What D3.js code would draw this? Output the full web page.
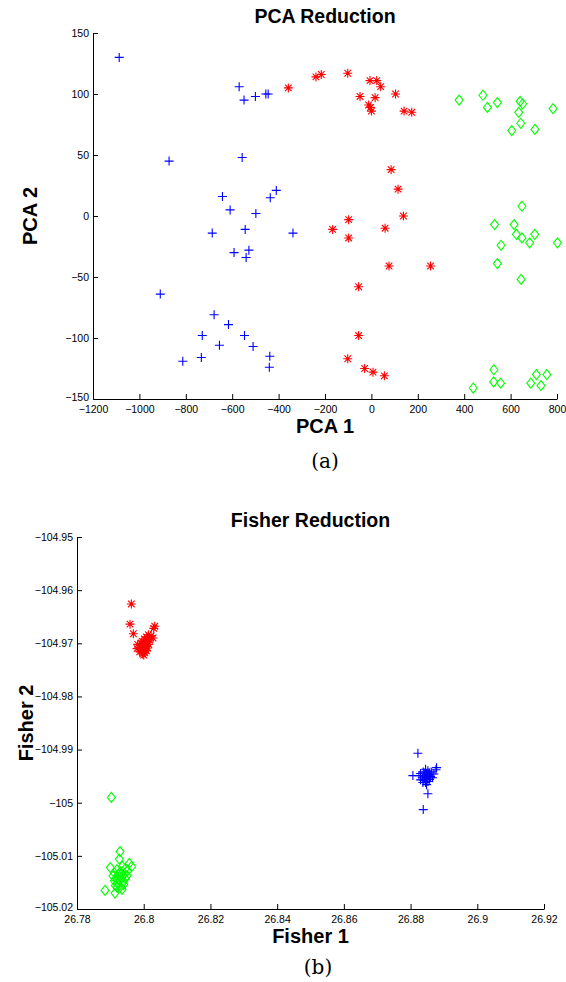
<!DOCTYPE html>
<html><head><meta charset="utf-8">
<script src="https://cdn.jsdelivr.net/npm/d3@7"></script>
<style>body{margin:0;background:#fff}svg{display:block}</style>
</head><body>
<svg id="c" width="566" height="982"></svg>
<script>
// ---------- PCA data ----------
const pcaBlue = [[-1087,130],[-570,106],[-549,95],[-500,98],[-455,100],[-445,100],
 [-872,45],[-557,48],[-642,16],[-410,21],[-436,15],[-609,5],[-498,2],[-686,-14],[-544,-11],[-338,-14],[-592,-30],[-528,-28],[-540,-34],
 [-910,-64],[-678,-81],[-616,-89],[-729,-98],[-547,-98],[-655,-106],[-510,-107],[-733,-116],[-813,-119],[-438,-115],[-440,-124]];
const pcaRed = [[-358,105],[-239,114],[-216,116],[-102,117],[-6,111],[23,111],[40,106],[-49,98],[16,97],[104,100],[-12,91],[-4,89],[0,86],[141,86],[174,85],
 [85,38],[115,22],[138,0],[-98,-3],[-167,-11],[59,-10],[-98,-18],[76,-41],[255,-41],[-55,-58],
 [-55,-98],[-102,-117],[-29,-125],[7,-128],[56,-131]];
const pcaGreen = [[378,95],[481,99],[500,89],[543,93],[641,94],[652,92],[635,85],[783,88],[644,76],[605,70],[705,71],
 [649,8],[531,-7],[615,-7],[625,-15],[649,-18],[704,-15],[682,-22],[559,-24],[802,-22],[543,-39],[645,-52],
 [528,-126],[527,-136],[557,-137],[439,-141],[711,-130],[756,-130],[687,-137],[731,-139]];
const pcaXTicks = [-1200,-1000,-800,-600,-400,-200,0,200,400,600,800];
const pcaYTicks = [-150,-100,-50,0,50,100,150];

// ---------- Fisher data ----------
const fisherRed = [[26.7963,-104.9626],[26.7959,-104.9664],[26.8033,-104.9668],[26.8030,-104.9672],[26.7969,-104.9682],
 [26.8014,-104.9684],[26.8022,-104.9686],[26.8008,-104.9688],[26.8028,-104.9690],[26.8002,-104.9692],[26.8018,-104.9694],
 [26.7995,-104.9696],[26.8010,-104.9698],[26.8003,-104.9700],[26.7982,-104.9702],[26.8015,-104.9702],[26.7998,-104.9705],
 [26.8007,-104.9706],[26.7990,-104.9708],[26.8012,-104.9709],[26.7980,-104.9710],[26.8001,-104.9712],[26.7995,-104.9714],
 [26.8008,-104.9714],[26.7988,-104.9716],[26.8003,-104.9718],[26.7997,-104.9720],[26.8000,-104.9722],[26.8006,-104.9711],[26.7993,-104.9700]];
const fisherGreen = [[26.7903,-104.9990],[26.7929,-105.0092],[26.7927,-105.0106],[26.7957,-105.0114],[26.7964,-105.0120],
 [26.7900,-105.0122],[26.7936,-105.0120],[26.7945,-105.0124],[26.7920,-105.0126],[26.7952,-105.0128],[26.7930,-105.0130],
 [26.7912,-105.0132],[26.7942,-105.0134],[26.7925,-105.0136],[26.7950,-105.0137],[26.7908,-105.0138],[26.7935,-105.0140],
 [26.7918,-105.0142],[26.7945,-105.0143],[26.7928,-105.0145],[26.7912,-105.0147],[26.7938,-105.0149],[26.7922,-105.0151],
 [26.7940,-105.0154],[26.7915,-105.0156],[26.7930,-105.0158],[26.7921,-105.0160],[26.7884,-105.0165],[26.7914,-105.0170],[26.7935,-105.0163]];
const fisherBlue = [[26.8822,-104.9907],[26.8838,-105.0013],[26.8852,-104.9983],[26.8878,-104.9934],[26.8876,-104.9938],
 [26.8807,-104.9949],[26.8845,-104.9937],[26.8852,-104.9940],[26.8838,-104.9942],[26.8862,-104.9942],[26.8830,-104.9945],
 [26.8848,-104.9946],[26.8870,-104.9946],[26.8855,-104.9948],[26.8825,-104.9949],[26.8842,-104.9950],[26.8860,-104.9951],
 [26.8835,-104.9952],[26.8850,-104.9953],[26.8866,-104.9953],[26.8845,-104.9955],[26.8857,-104.9956],[26.8830,-104.9957],
 [26.8840,-104.9958],[26.8852,-104.9960],[26.8845,-104.9962],[26.8837,-104.9962],[26.8848,-104.9966],[26.8856,-104.9944],[26.8843,-104.9944]];
const fisherXTicks = [26.78,26.8,26.82,26.84,26.86,26.88,26.9,26.92];
const fisherXLabels = ["26.78","26.8","26.82","26.84","26.86","26.88","26.9","26.92"];
const fisherYTicks = [-105.02,-105.01,-105,-104.99,-104.98,-104.97,-104.96,-104.95];
const fisherYLabels = ["\u2212105.02","\u2212105.01","\u2212105","\u2212104.99","\u2212104.98","\u2212104.97","\u2212104.96","\u2212104.95"];

const svg = d3.select("#c");
const tickFont = "'Liberation Sans', Arial, Helvetica, sans-serif";

function marker(g, type, color, pts, x, y){
  const sel = g.append("g").attr("fill","none").attr("stroke",color).attr("stroke-width",1.1);
  pts.forEach(p=>{
    const cx = x(p[0]), cy = y(p[1]);
    let d;
    if(type==="plus") d = `M${cx-4.5},${cy}H${cx+4.5}M${cx},${cy-4.5}V${cy+4.5}`;
    else if(type==="star") d = `M${cx-4.5},${cy}H${cx+4.5}M${cx},${cy-4.5}V${cy+4.5}M${cx-3.3},${cy-3.3}L${cx+3.3},${cy+3.3}M${cx-3.3},${cy+3.3}L${cx+3.3},${cy-3.3}`;
    else d = `M${cx},${cy-5}L${cx+4},${cy}L${cx},${cy+5}L${cx-4},${cy}Z`;
    sel.append("path").attr("d",d);
  });
}

function panel(cfg){
  const x = d3.scaleLinear().domain(cfg.xdom).range([cfg.left,cfg.right]);
  const y = d3.scaleLinear().domain(cfg.ydom).range([cfg.bottom,cfg.top]);
  const g = svg.append("g");
  const xa = d3.axisBottom(x).tickValues(cfg.xt).tickSizeInner(-5).tickSizeOuter(0).tickPadding(8)
    .tickFormat((d,i)=>cfg.xl ? cfg.xl[i] : d3.format("")(d).replace("-","\u2212"));
  const ya = d3.axisLeft(y).tickValues(cfg.yt).tickSizeInner(-5).tickSizeOuter(0).tickPadding(8)
    .tickFormat((d,i)=>cfg.yl ? cfg.yl[i] : d3.format("")(d).replace("-","\u2212"));
  const gx = g.append("g").attr("transform",`translate(0,${cfg.bottom})`).call(xa);
  const gy = g.append("g").attr("transform",`translate(${cfg.left},0)`).call(ya);
  [gx,gy].forEach(a=>{
    a.selectAll("text").attr("font-family",tickFont).attr("font-size",10.5).attr("fill","#000");
    a.selectAll("line,path").attr("stroke","#000").attr("stroke-width",1);
  });
  gx.selectAll("text").attr("dy","0.6em");
  gy.selectAll("text").attr("dx","4").attr("dy","0.32em");
  // lowest y label sits just above the x labels, as in the reference
  gy.selectAll(".tick:first-of-type text").attr("dy","0.1em");
  cfg.series.forEach(s=>marker(g,s.type,s.color,s.data,x,y));
  const cx = (cfg.left+cfg.right)/2;
  g.append("text").attr("x",cx).attr("y",cfg.top-10).attr("text-anchor","middle")
    .attr("font-family",tickFont).attr("font-weight","bold").attr("font-size",19.5).text(cfg.title);
  g.append("text").attr("x",cx).attr("y",cfg.bottom+34).attr("text-anchor","middle")
    .attr("font-family",tickFont).attr("font-weight","bold").attr("font-size",20).text(cfg.xlabel);
  g.append("text").attr("transform",`translate(${cfg.ylx},${(cfg.top+cfg.bottom)/2}) rotate(-90)`).attr("text-anchor","middle")
    .attr("font-family",tickFont).attr("font-weight","bold").attr("font-size",20).text(cfg.ylabel);
  g.append("text").attr("x",cfg.capx).attr("y",cfg.capy).attr("text-anchor","middle")
    .attr("font-family","'DejaVu Serif','Liberation Serif',serif").attr("font-size",20).text(cfg.caption);
}

panel({left:93,right:557,top:33,bottom:399,xdom:[-1200,800],ydom:[-150,150],
  xt:pcaXTicks,yt:pcaYTicks,title:"PCA Reduction",xlabel:"PCA 1",ylabel:"PCA 2",ylx:37,
  caption:"(a)",capx:325,capy:468,
  series:[{type:"plus",color:"#0000ff",data:pcaBlue},{type:"star",color:"#ff0000",data:pcaRed},{type:"diamond",color:"#00ff00",data:pcaGreen}]});

panel({left:77,right:544,top:537,bottom:909,xdom:[26.78,26.92],ydom:[-105.02,-104.95],
  xt:fisherXTicks,xl:fisherXLabels,yt:fisherYTicks,yl:fisherYLabels,title:"Fisher Reduction",xlabel:"Fisher 1",ylabel:"Fisher 2",ylx:33,
  caption:"(b)",capx:318,capy:974,
  series:[{type:"plus",color:"#0000ff",data:fisherBlue},{type:"star",color:"#ff0000",data:fisherRed},{type:"diamond",color:"#00ff00",data:fisherGreen}]});
</script>
</body></html>
